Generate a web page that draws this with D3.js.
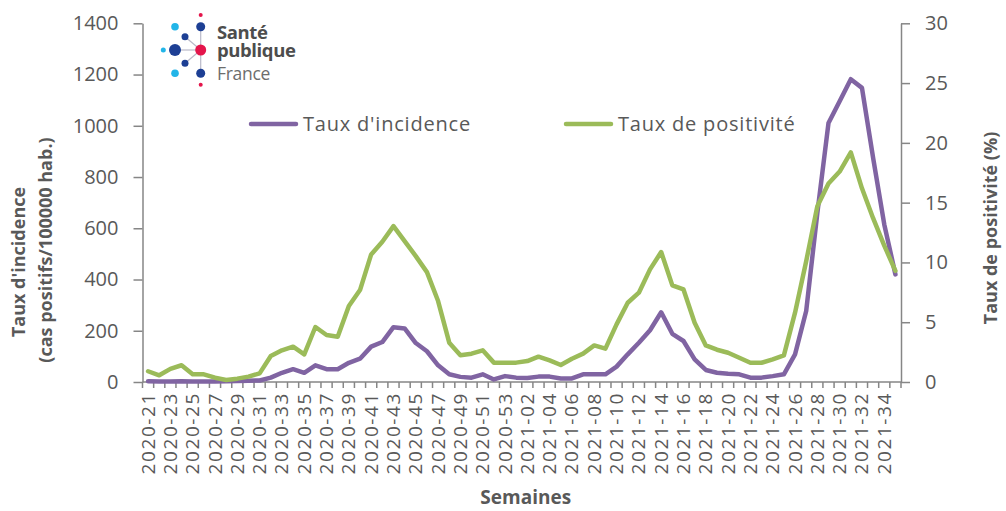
<!DOCTYPE html>
<html>
<head>
<meta charset="utf-8">
<script src="https://cdn.jsdelivr.net/npm/d3@7"></script>
<style>
  body { margin: 0; background: #fff; }
  svg text { font-family: "Open Sans", sans-serif; }
</style>
</head>
<body>
<div id="chart"></div>
<script>
// Semaines 2020-21 .. 2021-35
const weeks2020 = d3.range(21, 54).map(w => '2020-' + w);
const weeks2021 = d3.range(1, 36).map(w => '2021-' + String(w).padStart(2, '0'));
const weeks = weeks2020.concat(weeks2021);

// Taux d'incidence (cas positifs / 100000 hab.)
const incidence = [
  3, 2, 2, 3, 2, 2, 2, 3, 4, 5,
  6, 17, 36, 50, 36, 65, 50, 50, 75, 91,
  138, 156, 214, 209, 152, 120, 65, 30, 20, 17,
  30, 10, 23, 17, 16, 21, 21, 14, 14, 30,
  30, 30, 60, 108, 153, 202, 272, 188, 160, 88,
  47, 36, 32, 30, 17, 17, 23, 30, 108, 277,
  660, 1011, 1096, 1182, 1148, 875, 615, 420
];

// Taux de positivité (%)
const positivite = [
  0.9, 0.56, 1.1, 1.4, 0.64, 0.64, 0.36, 0.17, 0.28, 0.45,
  0.72, 2.17, 2.65, 2.95, 2.31, 4.6, 3.93, 3.79, 6.35, 7.69,
  10.67, 11.73, 13.04, 11.78, 10.53, 9.19, 6.77, 3.29, 2.23, 2.37,
  2.65, 1.62, 1.62, 1.62, 1.75, 2.12, 1.81, 1.42, 1.95, 2.37,
  3.06, 2.79, 4.82, 6.63, 7.47, 9.42, 10.87, 8.08, 7.74, 4.96,
  3.06, 2.7, 2.45, 2.03, 1.61, 1.61, 1.9, 2.23, 5.8, 10.1,
  14.7, 16.6, 17.6, 19.2, 16.2, 13.7, 11.4, 9.3
];

const leftTicks = [0, 200, 400, 600, 800, 1000, 1200, 1400];
const rightTicks = [0, 5, 10, 15, 20, 25, 30];

const W = 1006, H = 511;
const plot = { left: 142.5, right: 901, top: 23.3, bottom: 382 };
const axisColor = '#868686';
const textColor = '#595959';
const purple = '#8064a2';
const green = '#9bbb59';

const svg = d3.select('#chart').append('svg')
  .attr('width', W).attr('height', H);

const x = d3.scaleBand().domain(weeks).range([plot.left, plot.right]).padding(0);
const cx = w => x(w) + x.bandwidth() / 2;
const yL = d3.scaleLinear().domain([0, 1400]).range([plot.bottom, plot.top]);
const yR = d3.scaleLinear().domain([0, 30]).range([plot.bottom, plot.top]);

// Left axis
const gL = svg.append('g')
  .attr('transform', `translate(${plot.left},0)`)
  .call(d3.axisLeft(yL).tickValues(leftTicks).tickFormat(d3.format('d'))
    .tickSize(9).tickPadding(15).tickSizeOuter(0));

// Right axis
const gR = svg.append('g')
  .attr('transform', `translate(${plot.right},0)`)
  .call(d3.axisRight(yR).tickValues(rightTicks).tickFormat(d3.format('d'))
    .tickSize(9).tickPadding(15).tickSizeOuter(0));

[gL, gR].forEach(g => {
  g.select('.domain').attr('stroke', axisColor).attr('stroke-width', 1.5);
  g.selectAll('.tick line').attr('stroke', axisColor).attr('stroke-width', 1.5);
  g.selectAll('.tick text')
    .attr('fill', textColor)
    .style('font-size', '20px');
});

// Bottom axis: ticks at each band boundary, label every other week
const xAxis = svg.append('g').attr('class', 'x-axis');
xAxis.append('line')
  .attr('x1', plot.left).attr('x2', plot.right)
  .attr('y1', plot.bottom).attr('y2', plot.bottom)
  .attr('stroke', axisColor).attr('stroke-width', 1.5);

const boundaries = weeks.map(w => x(w)).concat([plot.right]);
xAxis.selectAll('.xtick').data(boundaries)
  .enter().append('line')
  .attr('class', 'xtick')
  .attr('x1', d => d).attr('x2', d => d)
  .attr('y1', plot.bottom).attr('y2', plot.bottom + 6)
  .attr('stroke', axisColor).attr('stroke-width', 1.5);

xAxis.selectAll('.xlabel').data(weeks.filter((w, i) => i % 2 === 0))
  .enter().append('text')
  .attr('class', 'xlabel')
  .attr('transform', d => `translate(${cx(d) + 6.5},${plot.bottom + 10}) rotate(-90)`)
  .attr('text-anchor', 'end')
  .attr('fill', textColor)
  .style('font-size', '19px')
  .style('letter-spacing', '1.6px')
  .text(d => d);

// Lines
const lineL = d3.line().x((d, i) => cx(weeks[i])).y(d => yL(d));
const lineR = d3.line().x((d, i) => cx(weeks[i])).y(d => yR(d));

svg.append('path')
  .datum(incidence)
  .attr('d', lineL)
  .attr('fill', 'none')
  .attr('stroke', purple)
  .attr('stroke-width', 4.5)
  .attr('stroke-linejoin', 'round')
  .attr('stroke-linecap', 'round');

svg.append('path')
  .datum(positivite)
  .attr('d', lineR)
  .attr('fill', 'none')
  .attr('stroke', green)
  .attr('stroke-width', 4.5)
  .attr('stroke-linejoin', 'round')
  .attr('stroke-linecap', 'round');

// Legend
const legendItems = [
  { label: "Taux d'incidence", color: purple, x: 251 },
  { label: 'Taux de positivité', color: green, x: 566 }
];
const legend = svg.append('g');
legendItems.forEach(item => {
  legend.append('line')
    .attr('x1', item.x).attr('x2', item.x + 45)
    .attr('y1', 124).attr('y2', 124)
    .attr('stroke', item.color).attr('stroke-width', 4.5)
    .attr('stroke-linecap', 'round');
  legend.append('text')
    .attr('x', item.x + 52).attr('y', 131)
    .attr('fill', textColor)
    .style('font-size', '20px')
    .style('letter-spacing', '0.8px')
    .text(item.label);
});

// Axis titles
svg.append('text')
  .attr('transform', 'translate(25,262) rotate(-90)')
  .attr('text-anchor', 'middle')
  .attr('fill', textColor)
  .style('font-size', '18px').style('font-weight', 'bold')
  .text("Taux d'incidence");
svg.append('text')
  .attr('transform', 'translate(52,250) rotate(-90)')
  .attr('text-anchor', 'middle')
  .attr('fill', textColor)
  .style('font-size', '18px').style('font-weight', 'bold')
  .text('(cas positifs/100000 hab.)');
svg.append('text')
  .attr('transform', 'translate(997,228) rotate(-90)')
  .attr('text-anchor', 'middle')
  .attr('fill', textColor)
  .style('font-size', '18px').style('font-weight', 'bold')
  .text('Taux de positivité (%)');
svg.append('text')
  .attr('x', (plot.left + plot.right) / 2 + 4).attr('y', 504)
  .attr('text-anchor', 'middle')
  .attr('fill', textColor)
  .style('font-size', '19px').style('font-weight', 'bold')
  .text('Semaines');

// Santé publique France logo
const logo = svg.append('g');
const hub = [200.7, 50];
const spokes = [[175, 50], [185, 36.7], [185, 63.3]];
spokes.forEach(p => {
  logo.append('line')
    .attr('x1', p[0]).attr('y1', p[1]).attr('x2', hub[0]).attr('y2', hub[1])
    .attr('stroke', '#b9b9c8').attr('stroke-width', 1.2);
});
logo.append('line')
  .attr('x1', 200.7).attr('y1', 26.7).attr('x2', 200.7).attr('y2', 73.3)
  .attr('stroke', '#b9b9c8').attr('stroke-width', 1.2);
const dots = [
  [200.7, 15, 2, '#e4154b'],
  [200.7, 26.7, 4.5, '#1d3f94'],
  [175, 26.7, 3.8, '#22b5e8'],
  [185, 36.7, 3.5, '#1d3f94'],
  [175, 50, 6, '#1d3f94'],
  [163.3, 50, 2.5, '#22b5e8'],
  [200.7, 50, 5.5, '#e4154b'],
  [185, 63.3, 3.5, '#1d3f94'],
  [175, 73.3, 3.8, '#22b5e8'],
  [200.7, 73.3, 4.5, '#1d3f94'],
  [200.7, 84.7, 2, '#e4154b']
];
logo.selectAll('circle').data(dots).enter().append('circle')
  .attr('cx', d => d[0]).attr('cy', d => d[1]).attr('r', d => d[2])
  .attr('fill', d => d[3]);
logo.append('text').attr('x', 217).attr('y', 39)
  .attr('fill', '#4d4d4d').style('font-size', '18.5px').style('font-weight', 'bold')
  .style('letter-spacing', '-0.4px')
  .text('Santé');
logo.append('text').attr('x', 217).attr('y', 57)
  .attr('fill', '#4d4d4d').style('font-size', '18.5px').style('font-weight', 'bold')
  .style('letter-spacing', '-0.4px')
  .text('publique');
logo.append('text').attr('x', 217).attr('y', 80)
  .attr('fill', '#6d6d6d').style('font-size', '17.5px')
  .style('letter-spacing', '-0.3px')
  .text('France');
</script>
</body>
</html>
